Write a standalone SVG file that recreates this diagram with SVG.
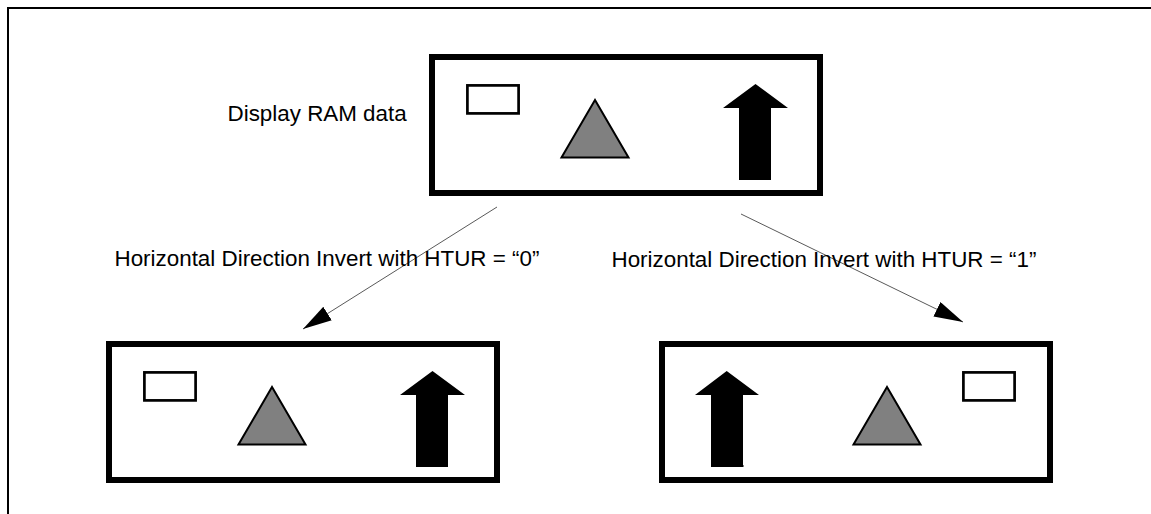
<svg xmlns="http://www.w3.org/2000/svg" width="1151" height="514" viewBox="0 0 1151 514">
<style>
.frame{fill:#fff;stroke:#000;stroke-width:6}
.box{fill:#fff;stroke:#000;stroke-width:2.7}
.tri{fill:#808080;stroke:#000;stroke-width:2}
.up{fill:#000}
.lbl{font-family:"Liberation Sans",Arial,sans-serif;font-size:22.4px;fill:#000}
.conn{fill:none;stroke:#222;stroke-width:.75;marker-end:url(#head)}
.border{fill:none;stroke:#000;stroke-width:2}
</style>
<defs>
<marker id="head" markerUnits="userSpaceOnUse" markerWidth="29" markerHeight="16" viewBox="0 0 29 16" refX="29" refY="8" orient="auto"><path d="M0 0L29 8L0 16Z" fill="#000"/></marker>
</defs>
<rect width="1151" height="514" fill="#fff"/>
<path class="border" d="M8 514V8H1151" id="page-border"/>
<g id="node-source">
<rect class="frame" x="432" y="57" width="388" height="136"/>
<rect class="box" x="467.4" y="85.4" width="51.2" height="28"/>
<path class="tri" d="M595 100L561.500 157.500H628.500Z"/>
<path class="up" d="M755.500 84L788 108H771V180H739V108H723Z"/>
<text class="lbl" x="227.500" y="120.500">Display RAM data</text>
</g>
<g id="node-htur0">
<rect class="frame" x="109" y="344" width="388" height="136"/>
<rect class="box" x="144.400" y="372.400" width="51.200" height="28"/>
<path class="tri" d="M272 387L238.500 444.500H305.500Z"/>
<path class="up" d="M432.500 371L465 395H448V467H416V395H400Z"/>
</g>
<g id="node-htur1">
<rect class="frame" x="662" y="344" width="388" height="136"/>
<path class="up" d="M726.700 371L759 395H743V465H743.500V467H711V395H695Z"/>
<path class="tri" d="M887 387L853.500 444.500H920.500Z"/>
<rect class="box" x="963.400" y="372.400" width="51.200" height="28"/>
</g>
<g id="connectors">
<line class="conn" x1="497" y1="207" x2="303" y2="329"/>
<line class="conn" x1="741" y1="214" x2="963" y2="322"/>
</g>
<g id="labels">
<text class="lbl" x="114.500" y="266">Horizontal Direction Invert with HTUR = “0”</text>
<text class="lbl" x="611.500" y="266.500">Horizontal Direction Invert with HTUR = “1”</text>
</g>
</svg>
